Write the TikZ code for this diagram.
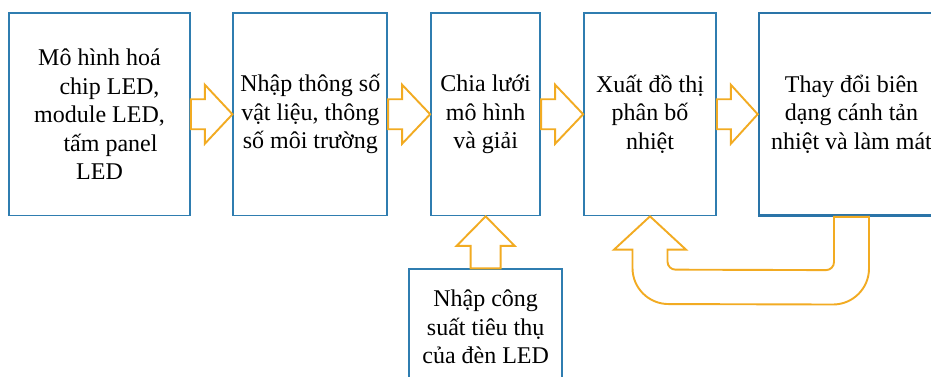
\documentclass[tikz,border=0pt]{standalone}
\usepackage{fontspec}
\setmainfont{Liberation Serif}
\usetikzlibrary{calc}
\definecolor{boxblue}{HTML}{2F7DB0}
\definecolor{boxblueB}{HTML}{2A74A8}
\definecolor{gold}{HTML}{F2AB22}
\newcommand\harrow[2]{\draw[barrow] ($(#1.east)+(0,-15)$) -- ($(#1.east)+(14,-15)$) -- ($(#1.east)+(14,-29.5)$) -- (#2.west) -- ($(#1.east)+(14,29.5)$) -- ($(#1.east)+(14,15)$) -- ($(#1.east)+(0,15)$) -- cycle;}
\begin{document}
\begin{tikzpicture}[x=1pt,y=-1pt,
  box/.style={draw=boxblue, line width=1.7pt, fill=white, align=center, inner sep=0pt,
    font=\fontsize{24}{28.5}\selectfont},
  barrow/.style={draw=gold, line width=1.9pt, fill=white, line join=miter}]
\useasboundingbox (0,0) rectangle (931,376);
\clip (0,0) rectangle (931,376);
\fill[white] (0,0) rectangle (931,376);
\node[box, minimum width=181pt, minimum height=202.5pt] (b1) at (99.5,114.25)
  {Mô hình hoá\\\hspace*{20pt}chip LED,\\module LED,\\\hspace*{22pt}tấm panel\\LED};
\node[box, minimum width=154pt, minimum height=202.5pt] (b2) at (310.3,114.25)
  {Nhập thông số\\vật liệu, thông\\số môi trường};
\node[box, minimum width=109.3pt, minimum height=202.5pt] (b3) at (485.65,114.25)
  {Chia lưới\\mô hình\\và giải};
\node[box, minimum width=132pt, minimum height=202.5pt] (b4) at (650,114.25)
  {Xuất đồ thị\\phân bố\\nhiệt};
\node[box, draw=boxblueB, line width=2.6pt, minimum width=185pt, minimum height=202.5pt] (b5) at (851.5,114.25)
  {Thay đổi biên\\dạng cánh tản\\nhiệt và làm mát};
\node[box, minimum width=153.3pt, minimum height=115.7pt] (b6) at (485.65,327)
  {Nhập công\\suất tiêu thụ\\của đèn LED};
\harrow{b1}{b2}
\harrow{b2}{b3}
\harrow{b3}{b4}
\harrow{b4}{b5}
\draw[barrow] (b3.south) -- ($(b3.south)+(29,29.5)$) -- ($(b3.south)+(15,29.5)$)
  -- ($(b6.north)+(15,0)$) -- ($(b6.north)+(-15,0)$) -- ($(b3.south)+(-15,29.5)$)
  -- ($(b3.south)+(-29,29.5)$) -- cycle;
\coordinate (ut) at (b4.south);
\coordinate (us) at (b5.south);
\draw[barrow] ($(us)+(-17.5,0)$) -- ($(us)+(17.5,0)$) -- ($(us)+(17.5,51.7)$)
  .. controls ($(us)+(17.5,71.6)$) and ($(us)+(1.4,87.7)$) .. ($(us)+(-18.5,87.7)$)
  -- ($(ut)+(18.5,87.7)$)
  .. controls ($(ut)+(-1.4,87.7)$) and ($(ut)+(-17.5,71.6)$) .. ($(ut)+(-17.5,51.7)$)
  -- ($(ut)+(-17.5,33.3)$) -- ($(ut)+(-36,33.3)$) -- (ut) -- ($(ut)+(36,33.3)$)
  -- ($(ut)+(17.5,33.3)$) -- ($(ut)+(17.5,45.3)$)
  .. controls ($(ut)+(17.5,49.7)$) and ($(ut)+(21.1,53.3)$) .. ($(ut)+(25.5,53.3)$)
  -- ($(us)+(-25.5,53.3)$)
  .. controls ($(us)+(-21.1,53.3)$) and ($(us)+(-17.5,49.7)$) .. ($(us)+(-17.5,45.3)$)
  -- cycle;
\end{tikzpicture}
\end{document}
